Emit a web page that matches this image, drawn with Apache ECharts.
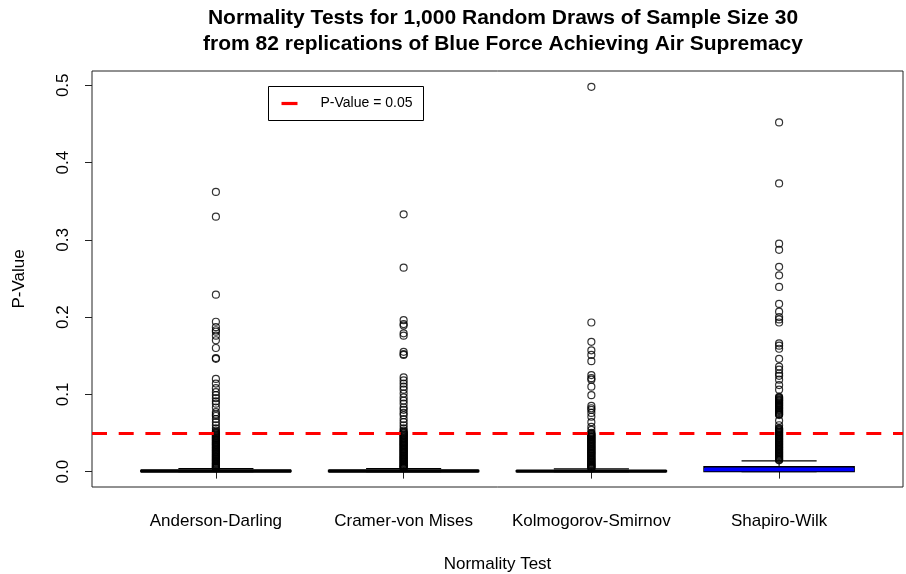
<!DOCTYPE html>
<html>
<head>
<meta charset="utf-8">
<title>Normality Tests</title>
<script src="https://cdn.jsdelivr.net/npm/echarts@6/dist/echarts.min.js"></script>
<style>
  html, body { margin: 0; padding: 0; background: #fff; }
  #chart { width: 906px; height: 574px; }
</style>
</head>
<body>
<div id="chart"></div>
<script>
// Normality test names (x categories)
const tests = ['Anderson-Darling', 'Cramer-von Mises', 'Kolmogorov-Smirnov', 'Shapiro-Wilk'];

// Box statistics per test: [lower whisker, Q1, median, Q3, upper whisker]
const boxAD  = [0, 0, 0.0008, 0.0015, 0.0040];
const boxCvM = [0, 0, 0.0008, 0.0015, 0.0040];
const boxKS  = [0, 0, 0.0006, 0.0012, 0.0036];
const boxSW  = [0, 0, 0.0026, 0.0063, 0.0139];

// Outlying p-values per test
const outAD = [
  0.362, 0.330, 0.229, 0.194, 0.187, 0.183, 0.181, 0.176, 0.170, 0.160, 0.147, 0.146,
  0.120, 0.114, 0.108, 0.103, 0.099, 0.095, 0.091, 0.088, 0.083, 0.077, 0.074, 0.072,
  0.068, 0.064, 0.060, 0.056, 0.053,
  0.0512, 0.0501, 0.0493, 0.0481, 0.0470, 0.0462, 0.0451, 0.0440, 0.0433, 0.0421,
  0.0410, 0.0402, 0.0391, 0.0380, 0.0372, 0.0361, 0.0350, 0.0343, 0.0332, 0.0321,
  0.0312, 0.0301, 0.0292, 0.0281, 0.0272, 0.0263, 0.0252, 0.0243, 0.0231, 0.0222,
  0.0213, 0.0202, 0.0193, 0.0184, 0.0173, 0.0165, 0.0154, 0.0146, 0.0135, 0.0127,
  0.0116, 0.0108, 0.0099, 0.0091, 0.0082, 0.0074, 0.0066, 0.0058, 0.0051, 0.0045
];
const outCvM = [
  0.333, 0.264, 0.196, 0.191, 0.189, 0.179, 0.176, 0.155, 0.152, 0.151,
  0.122, 0.118, 0.114, 0.110, 0.106, 0.101, 0.096, 0.092, 0.088, 0.083, 0.080,
  0.076, 0.073, 0.068, 0.064, 0.060, 0.056, 0.053,
  0.0514, 0.0503, 0.0494, 0.0482, 0.0471, 0.0463, 0.0452, 0.0441, 0.0432, 0.0422,
  0.0411, 0.0401, 0.0392, 0.0381, 0.0371, 0.0362, 0.0351, 0.0342, 0.0333, 0.0322,
  0.0311, 0.0302, 0.0291, 0.0282, 0.0273, 0.0262, 0.0253, 0.0242, 0.0232, 0.0223,
  0.0212, 0.0203, 0.0192, 0.0183, 0.0174, 0.0164, 0.0155, 0.0145, 0.0136, 0.0126,
  0.0117, 0.0107, 0.0098, 0.0090, 0.0081, 0.0073, 0.0065, 0.0057, 0.0050, 0.0045
];
const outKS = [
  0.498, 0.193, 0.168, 0.157, 0.151, 0.143, 0.125, 0.121, 0.119, 0.110, 0.099,
  0.085, 0.082, 0.080, 0.076, 0.071, 0.064, 0.058, 0.054,
  0.0502, 0.0491, 0.0483, 0.0472, 0.0461, 0.0450, 0.0442, 0.0431, 0.0420, 0.0412,
  0.0400, 0.0390, 0.0382, 0.0371, 0.0360, 0.0352, 0.0341, 0.0330, 0.0321, 0.0312,
  0.0300, 0.0291, 0.0283, 0.0271, 0.0262, 0.0251, 0.0242, 0.0233, 0.0222, 0.0211,
  0.0203, 0.0192, 0.0181, 0.0172, 0.0163, 0.0153, 0.0144, 0.0134, 0.0125, 0.0116,
  0.0106, 0.0097, 0.0089, 0.0080, 0.0072, 0.0064, 0.0056, 0.0049, 0.0042
];
const outSW = [
  0.452, 0.373, 0.295, 0.287, 0.265, 0.254, 0.239, 0.217, 0.207, 0.200, 0.197,
  0.193, 0.166, 0.163, 0.159, 0.146, 0.136, 0.132, 0.127, 0.124, 0.119, 0.112,
  0.106,
  0.0968, 0.0957, 0.0948, 0.0936, 0.0925, 0.0917, 0.0905, 0.0893, 0.0884, 0.0872,
  0.0861, 0.0852, 0.0840, 0.0828, 0.0819, 0.0806, 0.0795, 0.0784, 0.0772, 0.0761,
  0.0750, 0.0741, 0.0732,
  0.066, 0.060,
  0.0562, 0.0553, 0.0541, 0.0532, 0.0521, 0.0510, 0.0502, 0.0491, 0.0482, 0.0470,
  0.0461, 0.0452, 0.0441, 0.0430, 0.0422, 0.0411, 0.0400, 0.0392, 0.0381, 0.0372,
  0.0361, 0.0350, 0.0342, 0.0331, 0.0320, 0.0312, 0.0301, 0.0290, 0.0282, 0.0271,
  0.0262, 0.0250, 0.0241, 0.0232, 0.0221, 0.0212, 0.0201, 0.0192, 0.0183, 0.0172,
  0.0163, 0.0154, 0.0146
];

// Reference significance level
const alphaLevel = 0.05;

// Y tick values
const yTicks = [0, 0.1, 0.2, 0.3, 0.4, 0.5];

// Box styles (fill and median colour per test)
const boxFill = ['#ffffff', '#ffffff', '#ffffff', '#0000ff'];
const medColor = ['#000000', '#000000', '#000000', '#0000ff'];

const boxStats = [boxAD, boxCvM, boxKS, boxSW];
const outliers = [outAD, outCvM, outKS, outSW];

const boxData = boxStats.map((s, i) => [i + 1].concat(s));
const outlierData = [];
outliers.forEach((arr, i) => arr.forEach(v => outlierData.push([i + 1, v])));

const FONT = "'Liberation Sans', Arial, sans-serif";
const BOX_HALF = 0.4;
const STAPLE_HALF = 0.2;

const chart = echarts.init(document.getElementById('chart'), null, { renderer: 'canvas' });

chart.setOption({
  backgroundColor: '#ffffff',
  animation: false,
  title: {
    text: 'Normality Tests for 1,000 Random Draws of Sample Size 30\nfrom 82 replications of Blue Force Achieving Air Supremacy',
    left: 498,
    top: 0,
    textAlign: 'center',
    textStyle: {
      fontFamily: FONT, fontSize: 21, fontWeight: 'bold', color: '#000', lineHeight: 26
    }
  },
  grid: {
    left: 92, right: 3, top: 71, bottom: 87,
    containLabel: false,
    outerBoundsMode: 'none',
    show: true, borderColor: '#222', borderWidth: 1, backgroundColor: 'transparent'
  },
  xAxis: {
    type: 'value',
    min: 0.34, max: 4.66,
    name: 'Normality Test',
    nameLocation: 'middle',
    nameGap: 69,
    nameTextStyle: { fontFamily: FONT, fontSize: 17, color: '#000' },
    axisLine: { show: false },
    axisTick: { show: true, length: 7, lineStyle: { color: '#222' }, customValues: [1, 2, 3, 4] },
    axisLabel: {
      customValues: [1, 2, 3, 4],
      formatter: v => tests[Math.round(v) - 1] || '',
      fontFamily: FONT, fontSize: 17, color: '#000', margin: 26
    },
    splitLine: { show: false }
  },
  yAxis: {
    type: 'value',
    min: -0.0199, max: 0.5185,
    name: 'P-Value',
    nameLocation: 'middle',
    nameGap: 64,
    nameRotate: 90,
    nameTextStyle: { fontFamily: FONT, fontSize: 17, color: '#000' },
    axisLine: { show: false },
    axisTick: { show: true, length: 7, lineStyle: { color: '#222' }, customValues: yTicks },
    axisLabel: {
      customValues: yTicks,
      formatter: v => v.toFixed(1),
      rotate: 90,
      fontFamily: FONT, fontSize: 17, color: '#000', margin: 20
    },
    splitLine: { show: false }
  },
  series: [
    {
      type: 'custom',
      name: 'boxes',
      z: 2,
      data: boxData,
      encode: { x: 0, y: [1, 2, 3, 4, 5] },
      renderItem: function (params, api) {
        const x = api.value(0);
        const lw = api.value(1), q1 = api.value(2), med = api.value(3), q3 = api.value(4), uw = api.value(5);
        const i = params.dataIndex;
        const tl = api.coord([x - BOX_HALF, q3]);
        const br = api.coord([x + BOX_HALF, q1]);
        const mL = api.coord([x - BOX_HALF, med]);
        const mR = api.coord([x + BOX_HALF, med]);
        const wTop = api.coord([x, uw]);
        const wQ3 = api.coord([x, q3]);
        const wBot = api.coord([x, lw]);
        const wQ1 = api.coord([x, q1]);
        const sL = api.coord([x - STAPLE_HALF, uw]);
        const sR = api.coord([x + STAPLE_HALF, uw]);
        const lsL = api.coord([x - STAPLE_HALF, lw]);
        const lsR = api.coord([x + STAPLE_HALF, lw]);
        const children = [
          { type: 'line', shape: { x1: wQ3[0], y1: wQ3[1], x2: wTop[0], y2: wTop[1] },
            style: { stroke: '#000', lineWidth: 1, lineDash: [4, 3] } },
          { type: 'line', shape: { x1: sL[0], y1: sL[1], x2: sR[0], y2: sR[1] },
            style: { stroke: '#000', lineWidth: 1.2 } },
          { type: 'line', shape: { x1: wQ1[0], y1: wQ1[1], x2: wBot[0], y2: wBot[1] },
            style: { stroke: '#000', lineWidth: 1, lineDash: [4, 3] } },
          { type: 'line', shape: { x1: lsL[0], y1: lsL[1], x2: lsR[0], y2: lsR[1] },
            style: { stroke: '#000', lineWidth: 1.2 } },
          { type: 'rect', shape: { x: tl[0], y: tl[1], width: br[0] - tl[0], height: Math.max(br[1] - tl[1], 0.5) },
            style: { fill: boxFill[i], stroke: '#000', lineWidth: 1.4 } },
          { type: 'line', shape: { x1: mL[0], y1: mL[1], x2: mR[0], y2: mR[1] },
            style: { stroke: medColor[i], lineWidth: 3.4 } }
        ];
        return { type: 'group', children: children };
      }
    },
    {
      type: 'scatter',
      name: 'outliers',
      z: 3,
      data: outlierData,
      symbol: 'circle',
      symbolSize: 7,
      itemStyle: { color: 'rgba(0,0,0,0)', borderColor: '#000', borderWidth: 1.2 },
      silent: true
    },
    {
      type: 'line',
      name: 'P-Value = 0.05',
      z: 5,
      data: [],
      markLine: {
        silent: true,
        symbol: 'none',
        label: { show: false },
        lineStyle: { color: '#ff0000', width: 3.2, type: [15, 11.7] },
        data: [{ yAxis: alphaLevel }]
      }
    }
  ],
  graphic: [
    {
      type: 'group',
      left: 268, top: 86,
      children: [
        { type: 'rect', shape: { x: 0, y: 0, width: 155, height: 34 },
          style: { fill: '#fff', stroke: '#000', lineWidth: 1 } },
        { type: 'line', shape: { x1: 13, y1: 17, x2: 29, y2: 17 },
          style: { stroke: '#ff0000', lineWidth: 3.2 } },
        { type: 'text', x: 52, y: 17,
          style: { text: 'P-Value = 0.05', fill: '#000', font: "14px 'Liberation Sans', Arial, sans-serif",
                   textVerticalAlign: 'middle', verticalAlign: 'middle' } }
      ]
    }
  ]
});
</script>
</body>
</html>
